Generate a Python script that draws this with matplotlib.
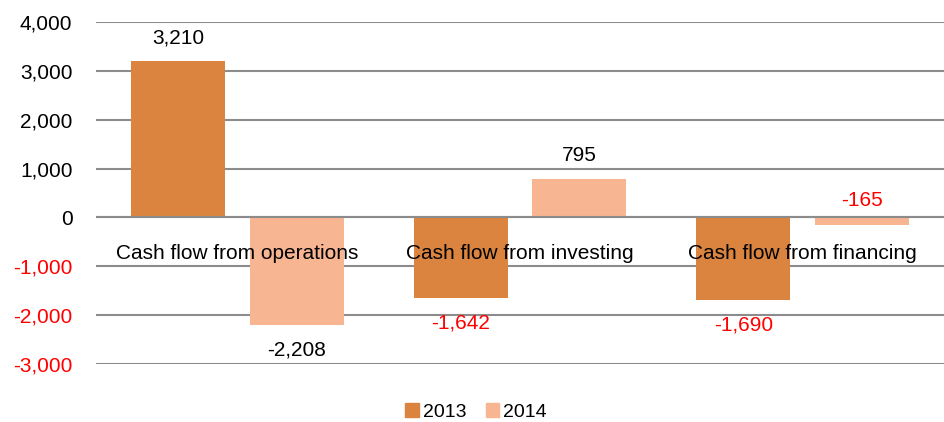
import matplotlib
matplotlib.use("Agg")
import matplotlib.pyplot as plt
from matplotlib.patches import Patch
import numpy as np

# chart data
categories = ["Cash flow from operations", "Cash flow from investing", "Cash flow from financing"]
years = ["2013", "2014"]
values_2013 = [3210, -1642, -1690]
values_2014 = [-2208, 795, -165]
yticks = [-3000, -2000, -1000, 0, 1000, 2000, 3000, 4000]

c2013 = "#DA843F"
c2014 = "#F8B592"
grid_col = "#8C8C8C"

plt.rcParams["font.family"] = ["Liberation Sans", "DejaVu Sans"]

fig = plt.figure(figsize=(9.44, 4.22), dpi=100)
ax = fig.add_axes([96 / 944, 1 - 364 / 422, 1 - 96 / 944, (364 - 22) / 422])

x = np.arange(len(categories))
w = 0.333
off = 0.21
ax.bar(x - off, values_2013, width=w, color=c2013, zorder=3)
ax.bar(x + off, values_2014, width=w, color=c2014, zorder=3)

ax.set_xlim(-0.5, 2.5)
ax.set_ylim(-3000, 4000)
ax.set_yticks(yticks)
ax.set_yticklabels([f"{v:,}" for v in yticks], fontsize=15)
for lab, v in zip(ax.get_yticklabels(), yticks):
    lab.set_color("red" if v < 0 else "black")
ax.tick_params(axis="y", length=0, pad=17)
ax.set_xticks([])
for s in ax.spines.values():
    s.set_visible(False)
ax.grid(axis="y", color=grid_col, linewidth=1.5, zorder=1)
ax.axhline(0, color=grid_col, linewidth=1.5, zorder=4)

# category labels sit just below the zero line
for i, cat in enumerate(categories):
    ax.annotate(cat, (i, 0), xytext=(0, -36), textcoords="offset pixels",
                ha="center", va="center", fontsize=15, zorder=5)

# value labels
def put_label(xpos, v, color, above):
    dy = 23 if above else -25
    ax.annotate(f"{v:,}", (xpos, v), xytext=(0, dy), textcoords="offset pixels",
                ha="center", va="center", fontsize=15, color=color, zorder=5)

label_colors_2013 = ["black", "red", "red"]
label_colors_2014 = ["black", "black", "red"]
for i, v in enumerate(values_2013):
    put_label(x[i] - off, v, label_colors_2013[i], v > 0)
for i, v in enumerate(values_2014):
    if i == 2:
        # the small negative value is labelled above the zero line
        ax.annotate(f"{v:,}", (x[i] + off, 0), xytext=(0, 17), textcoords="offset pixels",
                    ha="center", va="center", fontsize=15, color=label_colors_2014[i], zorder=5)
    else:
        put_label(x[i] + off, v, label_colors_2014[i], v > 0)

handles = [Patch(color=c2013), Patch(color=c2014)]
fig.legend(handles, years, loc="center", bbox_to_anchor=(476 / 944, 1 - 412 / 422),
           ncol=2, frameon=False, fontsize=14, handlelength=0.7, handleheight=0.7,
           handletextpad=0.2, columnspacing=1.0)

fig.savefig("out.png", dpi=100)
